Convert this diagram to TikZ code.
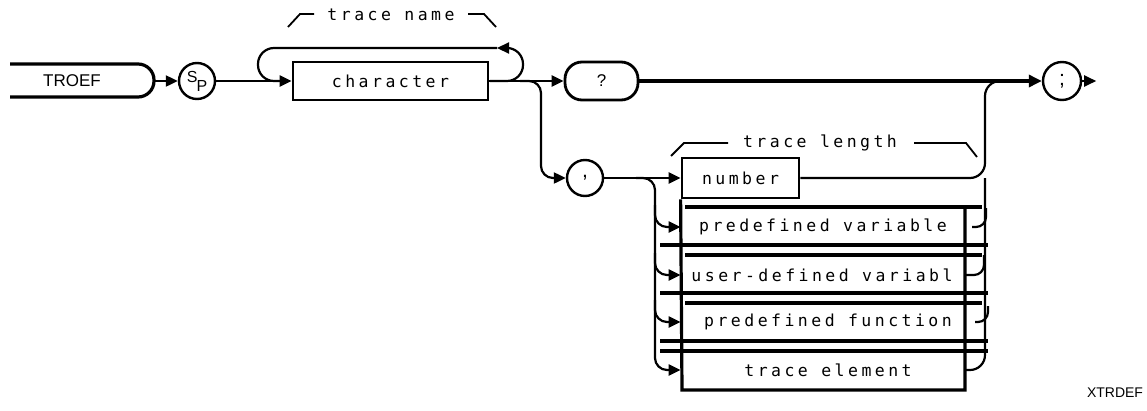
\documentclass[tikz,border=0pt]{standalone}
\usepackage{fontspec}
\setmainfont{Liberation Sans}
\newfontfamily\plotfont[LetterSpace=21]{DejaVu Sans Mono}
\usetikzlibrary{arrows.meta}
\tikzset{
  line/.style={line width=2.2pt},
  conn/.style={line width=2.2pt,-{Triangle[length=12pt,width=11pt]}},
  bold/.style={line width=4.5pt,-{Triangle[length=13pt,width=12pt]}},
  frame/.style={line width=3.2pt},
  tick/.style={line width=1.8pt},
  txt/.style={inner sep=0pt,font=\plotfont\fontsize{16.5}{19}\selectfont},
  box/.style={txt,draw,line width=2.8pt,minimum height=38pt},
  ring/.style={draw,circle,line width=2.4pt,minimum size=36pt,inner sep=0pt}
}
\begin{document}
\begin{tikzpicture}[x=1pt,y=-1pt]
  \useasboundingbox (0,0) rectangle (1147,410);

  \node (troef) at (72,81) {\fontsize{17}{20}\selectfont TROEF};
  \draw [frame,rounded corners=16pt] (10,64) -- (154,64) -- (154,97) -- (10,97);
  \coordinate (troefE) at (154,81);
  \node [ring] (sp) at (197,81) {\fontsize{16}{17}\selectfont\raisebox{2pt}{S}\kern-1pt\raisebox{-7pt}{P}};
  \node [box,minimum width=195pt] (char) at (390.5,81) {character};
  \node [box,rounded corners=17pt,minimum width=73pt,font=\fontsize{17}{19}\selectfont] (query) at (601.5,81) {?};
  \node [ring,minimum size=38pt,font=\fontsize{21}{23}\selectfont] (semi) at (1062,81) {;};
  \node [ring,font=\fontsize{21}{23}\selectfont] (comma) at (585,178) {,};
  \node [box,minimum width=117pt,minimum height=40pt] (number) at (740.5,178) {number};
  \node [txt] (predvar) at (823,227) {predefined variable};
  \node [txt] (uservar) at (822,275) {user-defined variabl};
  \node [txt] (predfun) at (828,322) {predefined function};
  \node [txt] (elem) at (828,370) {trace element};
  \node [txt] (tname) at (391,15) {trace name};
  \node [txt] (tlen) at (820,143) {trace length};
  \node (xtrdef) at (1115,393) {\fontsize{14}{16}\selectfont XTRDEF};

  \draw [tick] (288,27) -- (300,14) -- (314,14);
  \draw [tick] (468,14) -- (484,14) -- (496,27);
  \draw [tick] (671,156) -- (684,143) -- (728,143);
  \draw [tick] (914,143) -- (966,143) -- (977,157);

  \draw [conn] (troefE) -- (sp.west);
  \draw [conn] (sp.east) -- (char.west);
  \draw [conn] (char.east) -- (query.west);
  \draw [conn,rounded corners=16pt] (490,81) -| (523,48) -- (497,48);
  \draw [line,rounded corners=16pt] (497,48) -| (258,81) -- (280,81);
  \draw [conn,rounded corners=12pt] (520,81) -| (541,178) -- (comma.west);
  \draw [bold] (query.east) -- (semi.west);
  \draw [conn] (semi.east) -- ++(14,0);

  \draw [conn] (comma.east) -- (number.west);
  \draw [conn,rounded corners=12pt] (636,178) -| (655,370) -- (elem -| number.west);
  \draw [conn,rounded corners=12pt] (655,205) |- (predvar -| number.west);
  \draw [conn,rounded corners=12pt] (655,253) |- (uservar -| number.west);
  \draw [conn,rounded corners=12pt] (655,300) |- (predfun -| number.west);

  \draw [line,rounded corners=15pt] (number.east) -| (985,81) -- (1005,81);
  \draw [line,rounded corners=15pt] (966,370) -| (985,178);
  \draw [line,rounded corners=10pt] (972,227) -| (986,208);
  \draw [line,rounded corners=10pt] (966,275) -| (984,255);
  \draw [line,rounded corners=10pt] (975,322) -| (988,306);

  \draw [frame] (number.south west) -- (682,390) -- (965,390) -- (965,207);
  \foreach \y in {207,255,303}
    \draw [frame] (685,\y) -- (982,\y);
  \foreach \y in {245,293,341,351}
    \draw [frame] (660,\y) -- (988,\y);
\end{tikzpicture}
\end{document}
